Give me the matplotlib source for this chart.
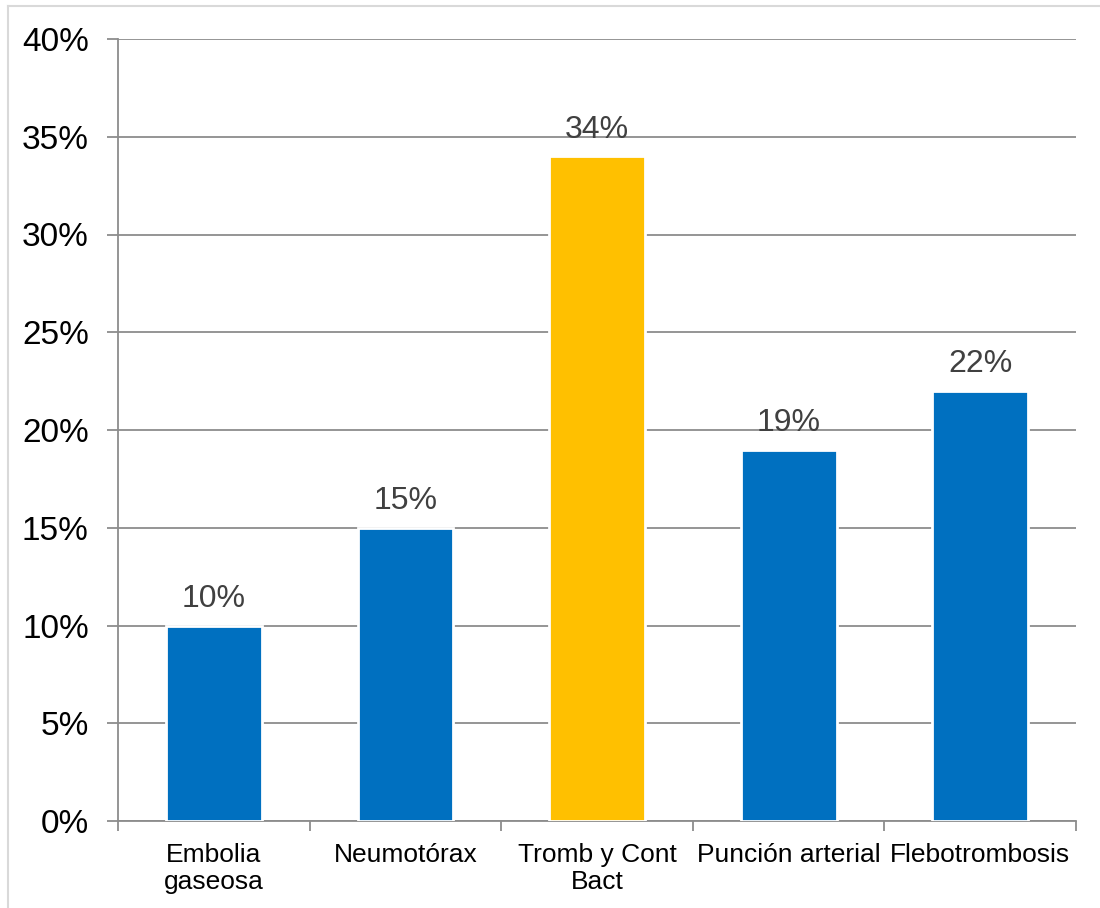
import matplotlib.pyplot as plt
import numpy as np
from matplotlib.lines import Line2D

plt.rcParams['font.family'] = ['Liberation Sans', 'DejaVu Sans']

categories = ['Embolia\ngaseosa', 'Neumotórax', 'Tromb y Cont\nBact', 'Punción arterial', 'Flebotrombosis']
values = [10, 15, 34, 19, 22]
colors = ['#0070C0', '#0070C0', '#FFC000', '#0070C0', '#0070C0']
yticks = [0, 5, 10, 15, 20, 25, 30, 35, 40]

fig = plt.figure(figsize=(11, 9.08), dpi=100)
ax = fig.add_axes([118/1100, 1-821/908, (1076-118)/1100, (821-39)/908])

# light frame around the chart area
fig.add_artist(Line2D([8/1100, 1.0], [1-6/908, 1-6/908], color='#d9d9d9', lw=1.5, transform=fig.transFigure))
fig.add_artist(Line2D([8/1100, 8/1100], [0.0, 1-6/908], color='#d9d9d9', lw=1.5, transform=fig.transFigure))

x = np.arange(len(categories))
ax.set_axisbelow(True)
ax.yaxis.grid(True, color='#8c8c8c', lw=1.3)
bars = ax.bar(x, values, width=0.5, color=colors, edgecolor='white', lw=2, zorder=3)

for xi, v in zip(x, values):
    ax.text(xi, v + 0.6, f'{v}%', ha='center', va='bottom', fontsize=23, color='#404040')

ax.set_xlim(-0.5, len(categories) - 0.5)
ax.set_ylim(0, 40)
ax.set_yticks(yticks)
ax.set_yticklabels([f'{t}%' for t in yticks], fontsize=24)
ax.set_xticks(x)
ax.set_xticklabels(categories, fontsize=19, linespacing=1.15)
ax.set_xticks(np.arange(-0.5, len(categories)), minor=True)
ax.tick_params(axis='x', which='major', length=0, pad=16)
ax.tick_params(axis='x', which='minor', length=7, color='#8c8c8c', width=1.3)
ax.tick_params(axis='y', length=8, color='#8c8c8c', width=1.3, pad=13)

for side in ['top', 'right']:
    ax.spines[side].set_visible(False)
for side in ['left', 'bottom']:
    ax.spines[side].set_color('#8c8c8c')
    ax.spines[side].set_linewidth(1.3)

fig.savefig('out.png', dpi=100)
